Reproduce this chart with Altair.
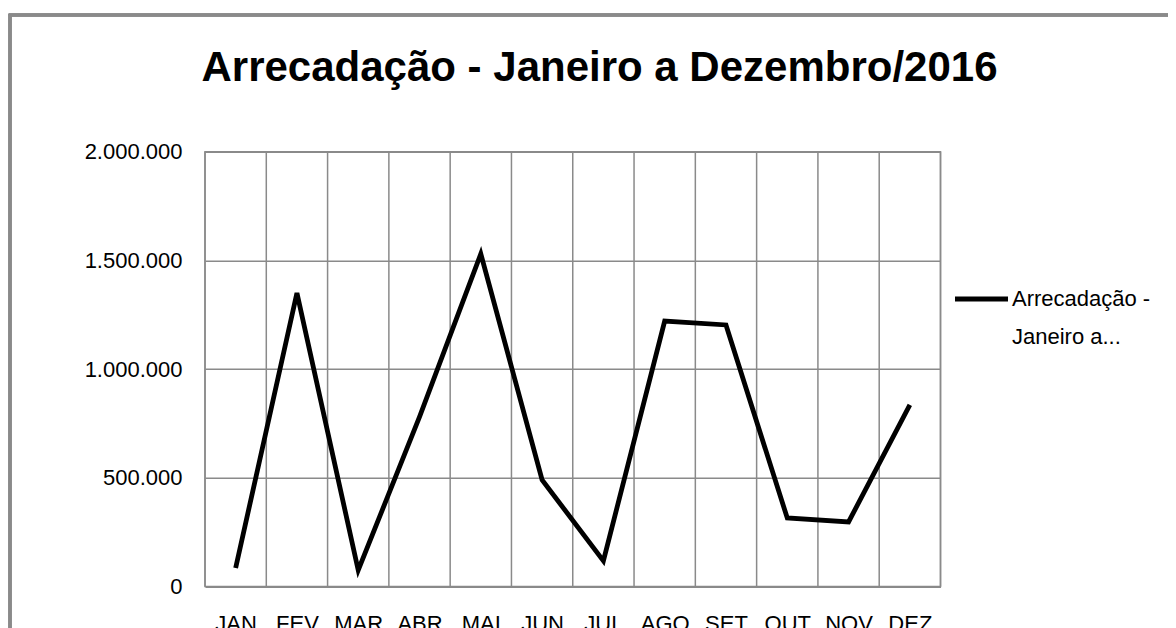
import altair as alt
import pandas as pd
import json

# ---- data ----
months = ["JAN", "FEV", "MAR", "ABR", "MAI", "JUN", "JUL", "AGO", "SET", "OUT", "NOV", "DEZ"]
values = [85000, 1350000, 75000, 780000, 1530000, 490000, 118000, 1221000, 1203000, 315000, 297000, 835000]
series_name = "Arrecadação - Janeiro a Dezembro/2016"
legend_lines = ["Arrecadação -", "Janeiro a..."]
y_ticks = [0, 500000, 1000000, 1500000, 2000000]
title_text = "Arrecadação - Janeiro a Dezembro/2016"

df = pd.DataFrame({
    "mes": months,
    "pos": [i + 0.5 for i in range(len(months))],
    "valor": values,
    "serie": [series_name] * len(months),
})
bounds = pd.DataFrame({"b": list(range(len(months) + 1))})
leg = pd.DataFrame({"txt": legend_lines, "row": list(range(len(legend_lines)))})
ttl = pd.DataFrame({"t": [title_text]})

FONT = "Liberation Sans"
GRID = "#8a8a8a"

W, H = 735.5, 434.8
PAD_L, PAD_T = 197, 143.7

xscale = alt.Scale(domain=[0, len(months)], nice=False, zero=False)
yscale = alt.Scale(domain=[0, 2000000], nice=False)

month_js = json.dumps(months)

xaxis = alt.Axis(values=[i + 0.5 for i in range(len(months))],
                 labelExpr=f"{month_js}[floor(datum.value)]",
                 grid=False, ticks=False, domain=False, title=None,
                 labelFont=FONT, labelFontSize=22, labelColor="#000",
                 labelPadding=27, labelBaseline="top")

vgrid = alt.Chart(bounds).mark_rule(color=GRID, strokeWidth=1.5).encode(
    x=alt.X("b:Q", scale=xscale, axis=xaxis)
)

frame = alt.Chart(bounds).mark_rect(
    fill=None, stroke=GRID, strokeWidth=2.5
).encode(
    x=alt.value(-195), x2=alt.value(1300), y=alt.value(-136.7), y2=alt.value(800)
)

title_mark = alt.Chart(ttl).mark_text(
    font=FONT, fontSize=42, fontWeight="bold", color="#000",
    align="center", baseline="alphabetic"
).encode(text="t:N", x=alt.value(394.5), y=alt.value(-70.7))

line = alt.Chart(df).mark_line(strokeWidth=4.8, strokeJoin="miter", color="#000").encode(
    x=alt.X("pos:Q", scale=xscale, axis=xaxis),
    y=alt.Y("valor:Q", scale=yscale,
            axis=alt.Axis(values=y_ticks,
                          labelExpr="replace(replace(format(datum.value, ','), ',', '.'), ',', '.')",
                          grid=True, gridColor=GRID, gridWidth=1.5,
                          ticks=False, domain=False, title=None,
                          labelFont=FONT, labelFontSize=22, labelColor="#000",
                          labelPadding=23)),
)

# legend (symbol + two label lines)
leg_symbol = alt.Chart(leg).transform_filter("datum.row == 0").mark_rule(
    color="#000", strokeWidth=4.8
).encode(x=alt.value(750), x2=alt.value(803), y=alt.value(147.3))

leg_text = alt.Chart(leg).mark_text(
    font=FONT, fontSize=22, color="#000", align="left", baseline="middle"
).encode(
    text="txt:N",
    x=alt.value(807),
    y=alt.Y("row:Q", scale=alt.Scale(domain=[0, 1], range=[147.3, 185.3]), axis=None),
)

chart = alt.layer(frame, vgrid, line, leg_symbol, leg_text, title_mark).properties(
    width=W, height=H,
    autosize=alt.AutoSizeParams(type="none"),
    padding={"left": PAD_L, "top": PAD_T, "right": 1160 - PAD_L - W, "bottom": 620 - PAD_T - H},
).resolve_scale(y="independent").configure_view(stroke=GRID, strokeWidth=1.5)

chart.save("out.html", embed_options={"renderer": "svg", "actions": False})
